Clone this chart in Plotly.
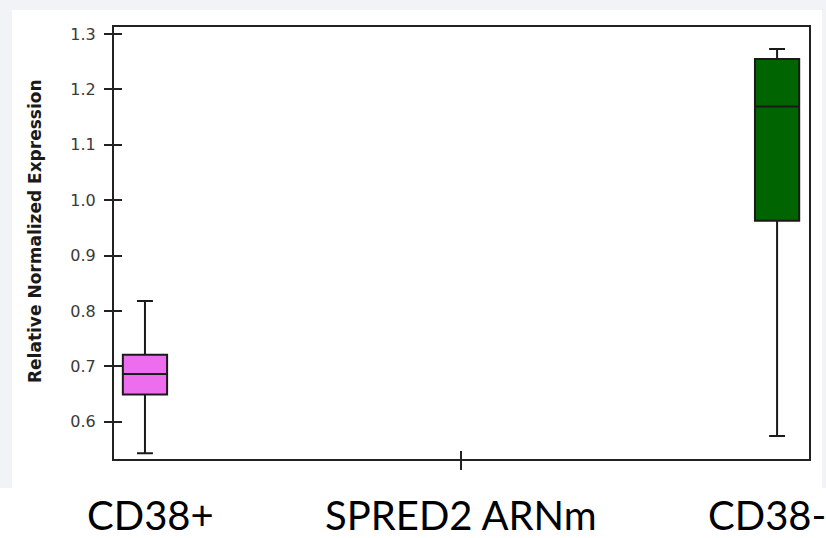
import plotly.graph_objects as go

# ---- data ----
axis_categories = ["CD38+", "SPRED2 ARNm", "CD38-"]
groups = ["CD38+", "CD38-"]
lower_whisker = [0.543, 0.574]
q1_values = [0.649, 0.963]
median_values = [0.686, 1.169]
q3_values = [0.721, 1.255]
upper_whisker = [0.818, 1.273]
y_tick_values = [0.6, 0.7, 0.8, 0.9, 1.0, 1.1, 1.2, 1.3]
y_tick_labels = ["0.6", "0.7", "0.8", "0.9", "1.0", "1.1", "1.2", "1.3"]
y_title = "Relative Normalized Expression"
fill_colors = ["#EE6CEE", "#006400"]

W, H = 826, 538
ML, MR, MT, MB = 114, 17, 27, 79
PW, PH = W - ML - MR, H - MT - MB


def px_x(p):
    return (p - ML) / PW


def px_y(p):
    return (H - MB - p) / PH


fig = go.Figure()
# second group drawn on the overlay axes (identical ranges) so that the
# inner tick marks of the overlay axes get rendered too
axis_pairs = [("x", "y"), ("x2", "y2")]
for i, g in enumerate(groups):
    fig.add_trace(go.Box(
        x=[g],
        q1=[q1_values[i]],
        median=[median_values[i]],
        q3=[q3_values[i]],
        lowerfence=[lower_whisker[i]],
        upperfence=[upper_whisker[i]],
        width=0.14,
        whiskerwidth=0.36,
        fillcolor=fill_colors[i],
        line=dict(color="#1a1a1a", width=2),
        boxpoints=False,
        showlegend=False,
        hoverinfo="skip",
        xaxis=axis_pairs[i][0],
        yaxis=axis_pairs[i][1],
    ))

yr = [0.5326, 1.3127]
xr = [-0.098, 2.101]

frame_col = "#222222"

fig.update_layout(
    width=W, height=H,
    margin=dict(l=ML, r=MR, t=MT, b=MB),
    paper_bgcolor="white",
    plot_bgcolor="white",
    font=dict(family="DejaVu Sans", color="#3a3a3a"),
    xaxis=dict(
        type="category", categoryorder="array", categoryarray=axis_categories,
        range=xr, tickvals=["SPRED2 ARNm"], showticklabels=False,
        ticks="outside", ticklen=9, tickwidth=2, tickcolor=frame_col,
        showline=True, linewidth=2, linecolor=frame_col, mirror=True,
        showgrid=False, zeroline=False, fixedrange=True,
    ),
    xaxis2=dict(
        type="category", categoryorder="array", categoryarray=axis_categories,
        range=xr, tickvals=["SPRED2 ARNm"], showticklabels=False,
        overlaying="x", anchor="y", side="bottom",
        ticks="inside", ticklen=8, tickwidth=2, tickcolor=frame_col,
        showline=False, showgrid=False, zeroline=False,
    ),
    yaxis=dict(
        range=yr, tickvals=y_tick_values, ticktext=y_tick_labels,
        ticks="outside", ticklen=8, tickwidth=2, tickcolor=frame_col,
        tickfont=dict(family="DejaVu Sans", size=16, color="#3a3a3a"),
        ticklabelstandoff=5,
        showline=True, linewidth=2, linecolor=frame_col, mirror=True,
        showgrid=False, zeroline=False,
    ),
    yaxis2=dict(
        range=yr, tickvals=y_tick_values, showticklabels=False,
        overlaying="y", anchor="x", side="left",
        ticks="inside", ticklen=8, tickwidth=2, tickcolor=frame_col,
        showline=False, showgrid=False, zeroline=False,
    ),
)

# light grey border of the pasted chart image
grey = "#f1f3f6"
for (x0, y0, x1, y1) in [(0, 0, 12, 488), (0, 0, W, 10), (822, 0, W, 488)]:
    fig.add_shape(type="rect", xref="paper", yref="paper",
                  x0=px_x(x0), x1=px_x(x1), y0=px_y(y1), y1=px_y(y0),
                  fillcolor=grey, line=dict(width=0), layer="below")

# y axis title
fig.add_annotation(text=f"<b>{y_title}</b>", xref="paper", yref="paper",
                   x=px_x(35), y=px_y(231), textangle=-90, showarrow=False,
                   font=dict(family="DejaVu Sans", size=17, color="#1a1a1a"),
                   xanchor="center", yanchor="middle")

# large category labels beneath the chart
label_font = dict(family="Lato", size=40, color="black")
fig.add_annotation(text=axis_categories[0], x=axis_categories[0], xref="x",
                   yref="paper", y=px_y(515), showarrow=False, xshift=6,
                   font=label_font, xanchor="center", yanchor="middle")
fig.add_annotation(text=axis_categories[1], x=axis_categories[1], xref="x",
                   yref="paper", y=px_y(515), showarrow=False,
                   font=label_font, xanchor="center", yanchor="middle")
fig.add_annotation(text=axis_categories[2], x=axis_categories[2], xref="x",
                   yref="paper", y=px_y(515), showarrow=False, xshift=-10,
                   font=label_font, xanchor="center", yanchor="middle")

fig.write_html("out.html",
               config={"displayModeBar": False},
               post_script="document.body.style.margin='0';"
                           "document.body.style.overflow='hidden';")
